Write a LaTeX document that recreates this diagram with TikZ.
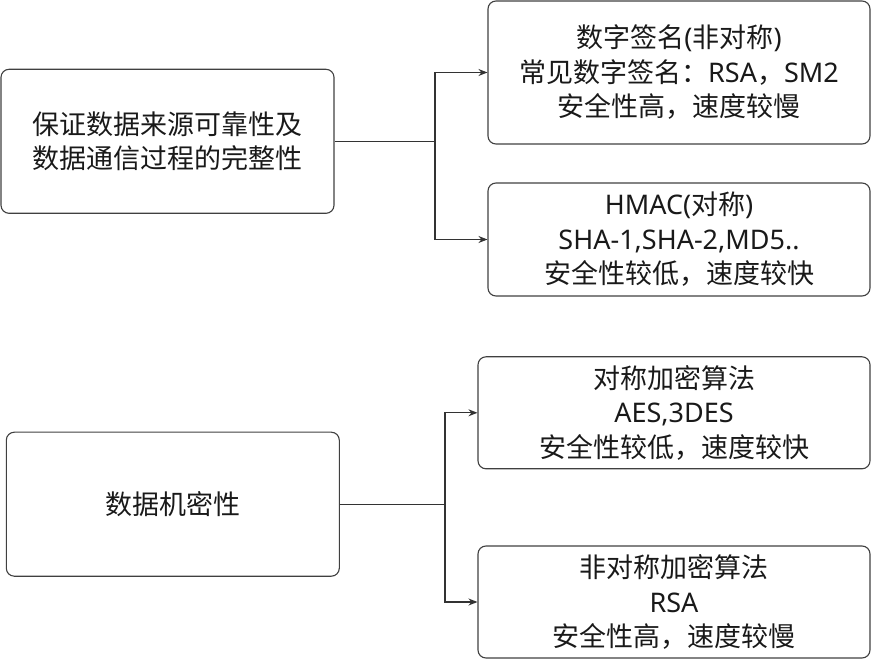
\documentclass[tikz,border=0pt]{standalone}
\usepackage{fontspec}
\setmainfont{Noto Sans CJK SC}
\newfontfamily\lat{Noto Sans}
\usetikzlibrary{arrows.meta}
\tikzset{
  box/.style={draw=black!75, line width=1.1pt, rounded corners=8pt, inner sep=0pt,
    align=center, font=\fontsize{27pt}{34.5pt}\selectfont, text=black!90},
  conn/.style={draw=black!80, line width=1.2pt},
  arr/.style={conn, -{Stealth[length=9pt,width=7pt]}}
}
\begin{document}
\begin{tikzpicture}[x=1pt,y=-1pt]
\useasboundingbox (0,0) rectangle (871,660);
\node[box, minimum width=333pt, minimum height=144pt] (A) at (167.5,141.3)
  {保证数据来源可靠性及\\数据通信过程的完整性};
\node[box, minimum width=382pt, minimum height=143pt] (B1) at (679,72.5)
  {数字签名{\lat(}非对称{\lat)}\\常见数字签名：{\lat RSA}，{\lat SM2}\\安全性高，速度较慢};
\node[box, minimum width=382pt, minimum height=113pt] (B2) at (679,239.5)
  {{\lat HMAC(}对称{\lat)}\\{\lat SHA-1,SHA-2,MD5..}\\安全性较低，速度较快};
\node[box, minimum width=333pt, minimum height=144pt] (C) at (172.8,504.2)
  {数据机密性};
\node[box, minimum width=392pt, minimum height=112pt] (D1) at (674,412.8)
  {对称加密算法\\{\lat AES,3DES}\\安全性较低，速度较快};
\node[box, minimum width=392pt, minimum height=112pt] (D2) at (674,602)
  {非对称加密算法\\{\lat RSA}\\安全性高，速度较慢};
\coordinate (jA) at (435,141.3);
\coordinate (jC) at (445,504.2);
\draw[conn] (A.east) -- (jA);
\draw[arr] (jA) |- (B1.west);
\draw[arr] (jA) |- (B2.west);
\draw[conn] (C.east) -- (jC);
\draw[arr] (jC) |- (D1.west);
\draw[arr] (jC) |- (D2.west);
\end{tikzpicture}
\end{document}
